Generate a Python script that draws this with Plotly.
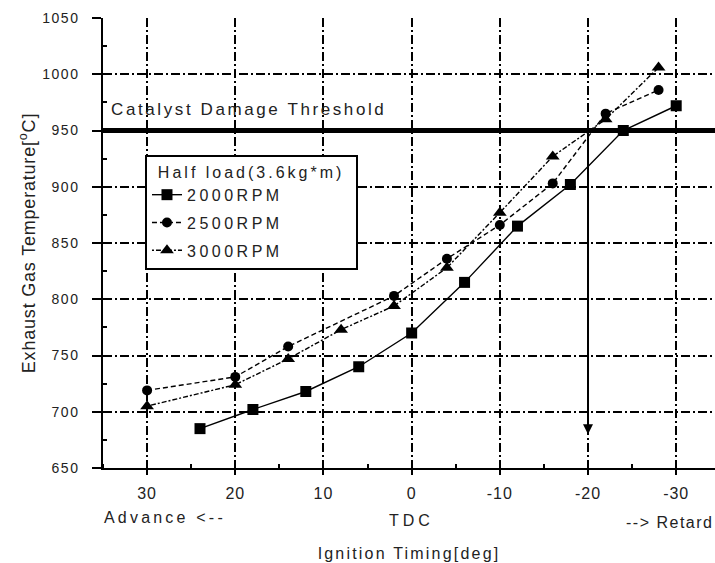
import plotly.graph_objects as go

# ---- data ----
X_2000 = [24, 18, 12, 6, 0, -6, -12, -18, -24, -30]
T_2000 = [685, 702, 718, 740, 770, 815, 865, 902, 950, 972]

X_2500 = [30, 20, 14, 2, -4, -10, -16, -22, -28]
T_2500 = [719, 731, 758, 803, 836, 866, 903, 965, 986]

X_3000 = [30, 20, 14, 8, 2, -4, -10, -16, -22, -28]
T_3000 = [705, 724, 747, 773, 794, 828, 877, 927, 960, 1006]

THRESHOLD = 950
ARROW_X = -20
ARROW_END = 680

X_TICKS = [30, 20, 10, 0, -10, -20, -30]
X_TICK_LABELS = ["30", "20", "10", "0", "-10", "-20", "-30"]
Y_TICKS = [650, 700, 750, 800, 850, 900, 950, 1000, 1050]
Y_TICK_LABELS = ["650", "700", "750", "800", "850", "900", "950", "1000", "1050"]

FONT = "Liberation Sans, Arial, sans-serif"
TXT = "#222222"


def spaced(s, px):
    return f'<span style="letter-spacing:{px}px">{s}</span>'


fig = go.Figure()

fig.add_trace(go.Scatter(
    x=X_2000, y=T_2000, mode="lines+markers", name=spaced("2000RPM", 3.5),
    legendgroup="a",
    line=dict(color="black", width=1.4),
    marker=dict(symbol="square", size=11, color="black"),
))
fig.add_trace(go.Scatter(
    x=X_2500, y=T_2500, mode="lines+markers", name=spaced("2500RPM", 3.5),
    legendgroup="b",
    line=dict(color="black", width=1.4, dash="5px,3px"),
    marker=dict(symbol="circle", size=10, color="black"),
))
fig.add_trace(go.Scatter(
    x=X_3000, y=T_3000, mode="lines+markers", name=spaced("3000RPM", 3.5),
    legendgroup="c",
    line=dict(color="black", width=1.4, dash="2px,2px,5px,2px"),
    marker=dict(symbol="triangle-up", size=12, color="black"),
))

# catalyst damage threshold line
fig.add_hline(y=THRESHOLD, line=dict(color="black", width=5), layer="above")

# arrow down from the threshold crossing
fig.add_annotation(
    x=ARROW_X, y=ARROW_END, ax=ARROW_X, ay=THRESHOLD,
    xref="x", yref="y", axref="x", ayref="y",
    text="", showarrow=True, arrowhead=2, arrowsize=1, arrowwidth=2,
    arrowcolor="black", standoff=0, startstandoff=0,
)

fig.add_annotation(
    x=0.0, y=THRESHOLD, xref="paper", yref="y", xanchor="left", yanchor="bottom",
    yshift=9, xshift=6,
    text=spaced("Catalyst Damage Threshold", 2.6), showarrow=False,
    font=dict(family=FONT, size=17, color=TXT),
)

fig.add_annotation(
    x=-0.002, y=-0.111, xref="paper", yref="paper", xanchor="left", yanchor="middle",
    text=spaced("Advance &lt;--", 3.2), showarrow=False,
    font=dict(family=FONT, size=16, color=TXT),
)
fig.add_annotation(
    x=0, y=-0.116, xref="x", yref="paper", xanchor="center", yanchor="middle",
    text=spaced("TDC", 4), showarrow=False,
    font=dict(family=FONT, size=16, color=TXT),
)
fig.add_annotation(
    x=1.0, y=-0.12, xref="paper", yref="paper", xanchor="right", yanchor="middle",
    text=spaced("--&gt; Retard", 1.5), showarrow=False,
    font=dict(family=FONT, size=16, color=TXT),
)

GRIDDASH = "9px,3px,2px,3px"

fig.update_xaxes(
    range=[35, -34.4],
    tickmode="array", tickvals=X_TICKS, ticktext=[spaced(t, 1) for t in X_TICK_LABELS],
    ticks="outside", ticklen=5, tickwidth=1.5, tickcolor="black",
    ticklabelstandoff=5,
    showline=True, linecolor="black", linewidth=1.5,
    showgrid=True, gridcolor="black", gridwidth=1.5, griddash=GRIDDASH,
    zeroline=False,
    minor=dict(tickmode="linear", tick0=5, dtick=10, ticks="inside", ticklen=4,
               tickwidth=1.5, tickcolor="black", showgrid=False),
    tickfont=dict(family=FONT, size=16, color=TXT),
    title=dict(text=spaced("Ignition Timing[deg]", 2.2), standoff=47,
               font=dict(family=FONT, size=16, color=TXT)),
)
fig.update_yaxes(
    range=[650, 1050],
    tickmode="array", tickvals=Y_TICKS,
    ticktext=[spaced(t, 1.5) for t in Y_TICK_LABELS],
    ticks="outside", ticklen=9, tickwidth=1.5, tickcolor="black",
    ticklabelstandoff=10, ticklabelposition="outside",
    showline=True, linecolor="black", linewidth=1.5,
    showgrid=True, gridcolor="black", gridwidth=1.5, griddash=GRIDDASH,
    zeroline=False,
    minor=dict(tickmode="linear", tick0=675, dtick=50, ticks="inside", ticklen=4,
               tickwidth=1.5, tickcolor="black", showgrid=False),
    tickfont=dict(family=FONT, size=14, color=TXT),
    title=dict(text=spaced("Exhaust Gas Temperature[<sup>o</sup>C]", 0.8), standoff=2,
               font=dict(family=FONT, size=18, color=TXT)),
)

fig.update_layout(
    width=715, height=563,
    margin=dict(l=103, r=0, t=18, b=95, autoexpand=False),
    paper_bgcolor="white", plot_bgcolor="white",
    font=dict(family=FONT, color=TXT),
    showlegend=True,
    legend=dict(
        x=0.0686, y=0.6956, xanchor="left", yanchor="top",
        bgcolor="white", bordercolor="black", borderwidth=2,
        title=dict(text="&nbsp;&nbsp;" + spaced("Half load(3.6kg*m)", 3) + "&nbsp;&nbsp;",
                   font=dict(family=FONT, size=16, color=TXT)),
        font=dict(family=FONT, size=16, color=TXT),
        tracegroupgap=4,
    ),
)

fig.write_html("out.html")
